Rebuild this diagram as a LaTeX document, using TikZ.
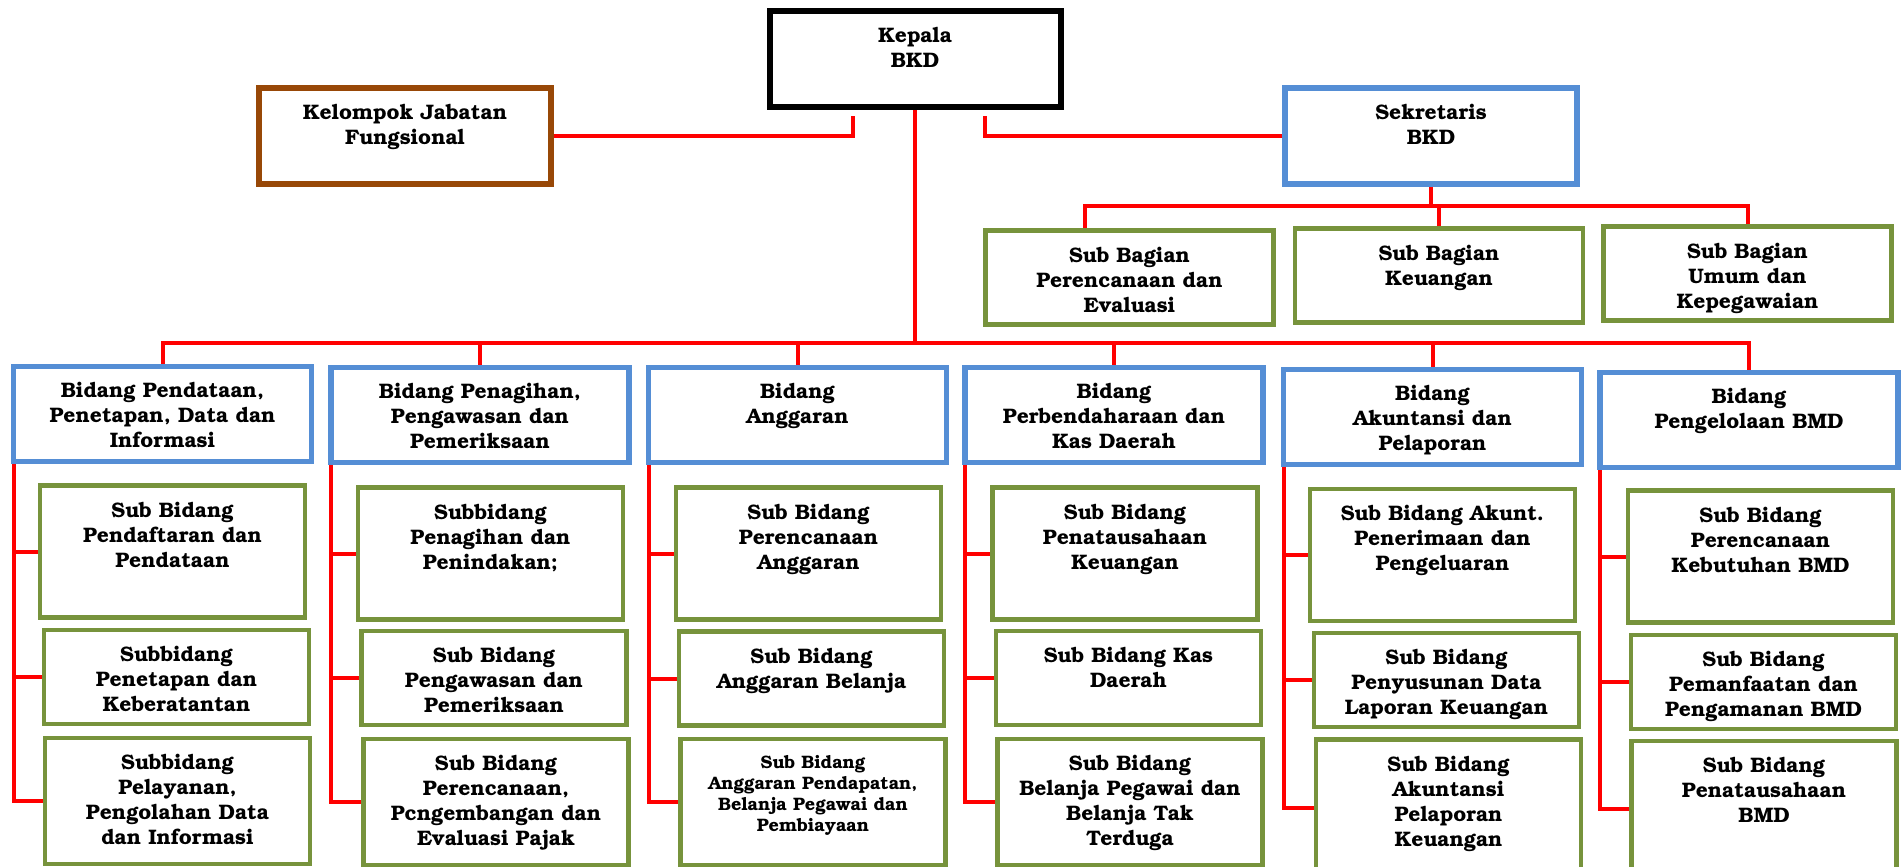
\documentclass[tikz,border=0pt]{standalone}
\usepackage[T1]{fontenc}
\usepackage{bookman}
\usepackage{xcolor}
\usepackage{tikz}

\definecolor{kepblack}{RGB}{0,0,0}
\definecolor{kelbrown}{RGB}{152,72,7}
\definecolor{bidblue}{RGB}{85,142,213}
\definecolor{subgreen}{RGB}{119,147,60}
\definecolor{linkred}{RGB}{255,0,0}

\newcommand{\orgfont}{\fontsize{21}{25}\selectfont\bfseries}
\newcommand{\orgsmall}{\fontsize{18}{21}\selectfont\bfseries}

\begin{document}
\begin{tikzpicture}[x=1pt, y=-1pt,
    lbl/.style={anchor=north, align=center, inner sep=0pt, yshift=-19pt, font=\orgfont},
    lblsmall/.style={lbl, font=\orgsmall},
    orgbox/.style={inner sep=0pt, minimum width=292pt, minimum height=96pt},
    kepalabox/.style={orgbox, draw=kepblack, line width=6pt, minimum width=291pt},
    kelompokbox/.style={orgbox, draw=kelbrown, line width=5.5pt},
    bidangbox/.style={orgbox, draw=bidblue, line width=5.5pt, minimum width=298pt, minimum height=95pt},
    bagianbox/.style={orgbox, draw=subgreen, line width=4.5pt, minimum width=288pt, minimum height=94pt},
    subbox/.style={inner sep=0pt, draw=subgreen, line width=4.5pt, minimum width=265pt},
    rowa/.style={subbox, minimum height=132pt},
    rowb/.style={subbox, minimum height=94pt},
    rowc/.style={subbox, minimum height=126pt},
    link/.style={draw=linkred, line width=4pt}]
    \useasboundingbox (0,0) rectangle (1901,867);

    % Top level
    \node[kepalabox, label={[lbl]north:{Kepala\\BKD}}] (kep) at (915,59) {};
    \node[kelompokbox, label={[lbl]north:{Kelompok Jabatan\\Fungsional}}] (kel) at (405,136) {};
    \node[bidangbox, minimum width=292pt, minimum height=96pt, label={[lbl]north:{Sekretaris\\BKD}}] (sek) at (1431,136) {};

    % Sub bagian of sekretaris
    \node[bagianbox, label={[lbl]north:{Sub Bagian\\Perencanaan dan\\Evaluasi}}] (sa1) at (1129.5,277.5) {};
    \node[bagianbox, label={[lbl]north:{Sub Bagian\\Keuangan}}] (sa2) at (1439,275.5) {};
    \node[bagianbox, label={[lbl]north:{Sub Bagian\\Umum dan\\Kepegawaian}}] (sa3) at (1747.5,273.5) {};

    % Bidang
    \node[bidangbox, label={[lbl]north:{Bidang Pendataan,\\Penetapan, Data dan\\Informasi}}] (b1) at (162.5,414) {};
    \node[bidangbox, label={[lbl]north:{Bidang Penagihan,\\Pengawasan dan\\Pemeriksaan}}] (b2) at (480,415) {};
    \node[bidangbox, label={[lbl]north:{Bidang\\Anggaran}}] (b3) at (797.5,415) {};
    \node[bidangbox, label={[lbl]north:{Bidang\\Perbendaharaan dan\\Kas Daerah}}] (b4) at (1114,415) {};
    \node[bidangbox, label={[lbl]north:{Bidang\\Akuntansi dan\\Pelaporan}}] (b5) at (1432.5,417) {};
    \node[bidangbox, label={[lbl]north:{Bidang\\Pengelolaan BMD}}] (b6) at (1749,420) {};

    % Sub bidang, column by column
    \node[rowa, label={[lbl]north:{Sub Bidang\\Pendaftaran dan\\Pendataan}}] (s1-a) at (172.5,551.5) {};
    \node[rowb, label={[lbl]north:{Subbidang\\Penetapan dan\\Keberatantan}}] (s1-b) at (176.5,677) {};
    \node[rowc, label={[lbl]north:{Subbidang\\Pelayanan,\\Pengolahan Data\\dan Informasi}}] (s1-c) at (177.5,801) {};

    \node[rowa, label={[lbl]north:{Subbidang\\Penagihan dan\\Penindakan;}}] (s2-a) at (490.5,553.5) {};
    \node[rowb, label={[lbl]north:{Sub Bidang\\Pengawasan dan\\Pemeriksaan}}] (s2-b) at (494,678) {};
    \node[rowc, label={[lbl]north:{Sub Bidang\\Perencanaan,\\Pcngembangan dan\\Evaluasi Pajak}}] (s2-c) at (496,802) {};

    \node[rowa, label={[lbl]north:{Sub Bidang\\Perencanaan\\Anggaran}}] (s3-a) at (808.5,553.5) {};
    \node[rowb, label={[lbl]north:{Sub Bidang\\Anggaran Belanja}}] (s3-b) at (811.5,678.5) {};
    \node[rowc, label={[lblsmall]north:{Sub Bidang\\Anggaran Pendapatan,\\Belanja Pegawai dan\\Pembiayaan}}] (s3-c) at (813,802) {};

    \node[rowa, label={[lbl]north:{Sub Bidang\\Penatausahaan\\Keuangan}}] (s4-a) at (1125,553.5) {};
    \node[rowb, label={[lbl]north:{Sub Bidang Kas\\Daerah}}] (s4-b) at (1128.5,678) {};
    \node[rowc, label={[lbl]north:{Sub Bidang\\Belanja Pegawai dan\\Belanja Tak\\Terduga}}] (s4-c) at (1130,802) {};

    \node[rowa, label={[lbl]north:{Sub Bidang Akunt.\\Penerimaan dan\\Pengeluaran}}] (s5-a) at (1442.5,555) {};
    \node[rowb, label={[lbl]north:{Sub Bidang\\Penyusunan Data\\Laporan Keuangan}}] (s5-b) at (1446.5,680) {};
    \node[rowc, minimum height=136pt, label={[lbl]north:{Sub Bidang\\Akuntansi\\Pelaporan\\Keuangan}}] (s5-c) at (1448.5,807.5) {};

    \node[rowa, label={[lbl]north:{Sub Bidang\\Perencanaan\\Kebutuhan BMD}}] (s6-a) at (1760.5,556.5) {};
    \node[rowb, label={[lbl]north:{Sub Bidang\\Pemanfaatan dan\\Pengamanan BMD}}] (s6-b) at (1763.5,682) {};
    \node[rowc, minimum height=136pt, label={[lbl]north:{Sub Bidang\\Penatausahaan\\BMD}}] (s6-c) at (1764,809) {};

    % Connectors at the top
    \coordinate (kl) at (853,116);
    \coordinate (kr) at (985,116);
    \coordinate (hub) at (915,343);
    \coordinate (shub) at (1431,206);
    \draw[link] (kel.east) -| (kl);
    \draw[link] (sek.west) -| (kr);
    \draw[link] (kep.south) -- (hub);
    \foreach \b in {b1,b2,b3,b4,b5,b6}
        \draw[link] (\b.north) |- (hub);

    % Sekretaris to sub bagian
    \draw[link] (sek.south) -- (shub);
    \draw[link] ([xshift=-45pt]sa1.north) |- (shub);
    \draw[link] (sa2.north) |- (shub);
    \draw[link] (sa3.north) |- (shub);

    % Bidang to sub bidang
    \foreach \c in {1,...,6} {
        \draw[link] ([xshift=3pt]b\c.south west) |- (s\c-c.west);
        \draw[link] ([xshift=3pt]b\c.south west |- s\c-a.west) -- (s\c-a.west);
        \draw[link] ([xshift=3pt]b\c.south west |- s\c-b.west) -- (s\c-b.west);
    }
\end{tikzpicture}
\end{document}
